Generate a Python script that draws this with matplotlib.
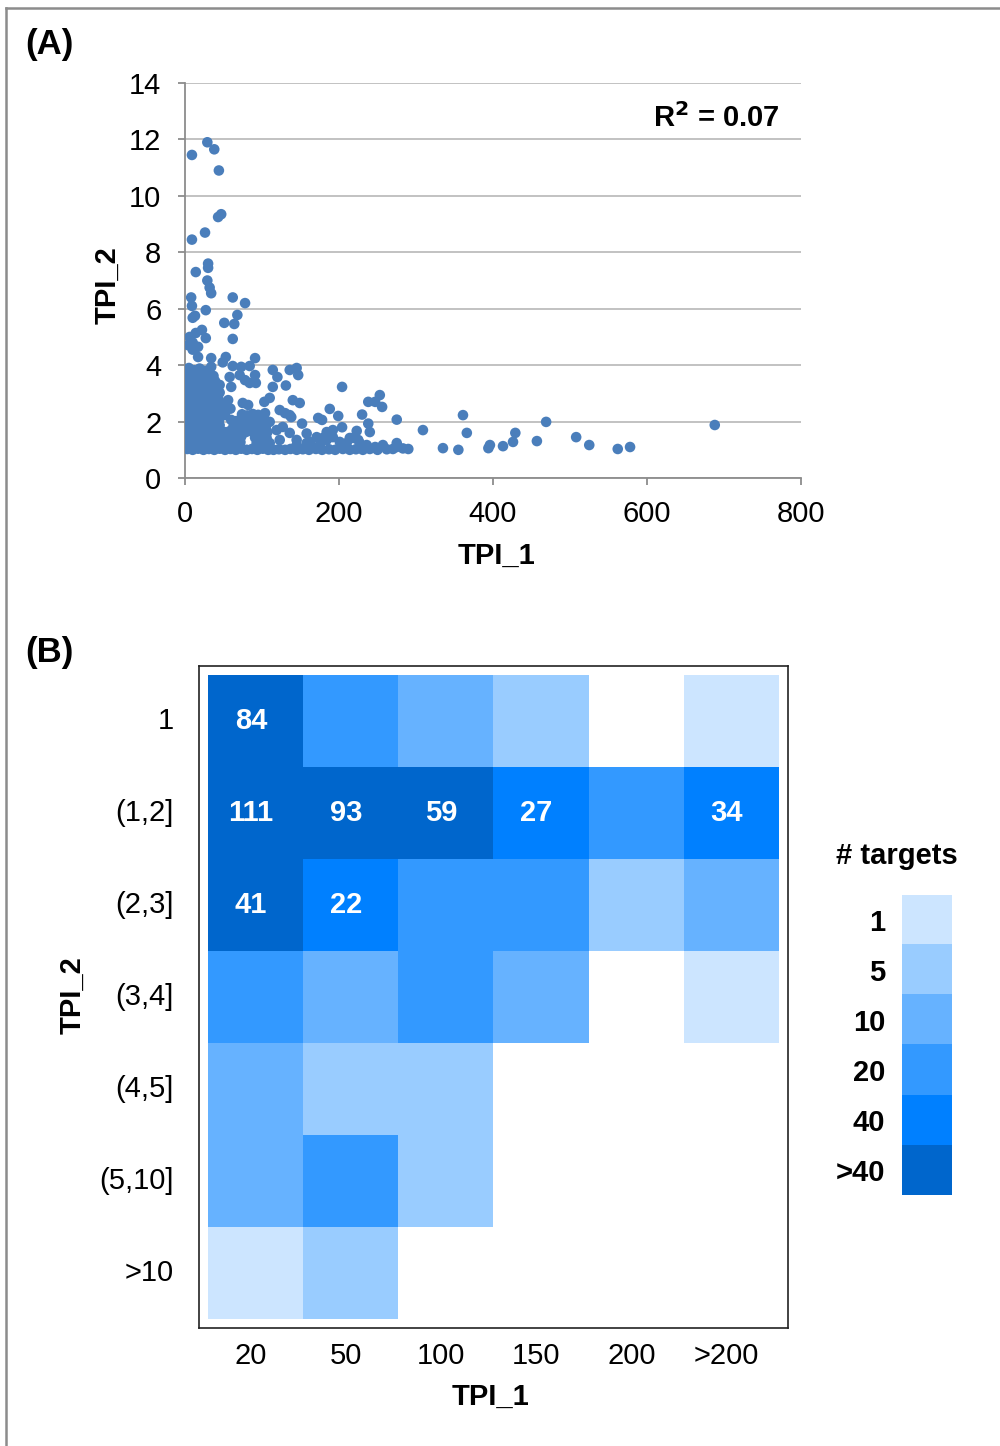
import matplotlib.pyplot as plt
import numpy as np
from matplotlib.colors import ListedColormap, BoundaryNorm
from matplotlib.lines import Line2D

plt.rcParams['font.family'] = ['Liberation Sans', 'DejaVu Sans']

# ---- panel A: TPI_1 vs TPI_2 (dense corner approximated) ----
high_points = [
    (9, 11.45), (29, 11.9), (38, 11.65), (44, 10.9), (47, 9.35), (43, 9.25),
    (26, 8.7), (9, 8.45), (30, 7.6), (30, 7.45), (14, 7.3), (29, 7.0), (32, 6.75),
    (34, 6.55), (8, 6.4), (9, 6.1), (62, 6.4), (78, 6.2), (68, 5.78), (27, 5.95),
    (13, 5.75), (10, 5.68), (51, 5.5), (64, 5.46), (22, 5.25), (14, 5.14),
    (6, 5.0), (10, 4.8), (17, 4.65), (4, 4.71), (10, 4.55), (27, 4.96), (62, 4.93),
    (17, 4.29), (34, 4.25), (53, 4.29), (91, 4.25), (49, 4.1), (34, 3.94),
    (62, 3.97), (73, 3.94), (84, 3.97), (114, 3.83), (120, 3.58), (136, 3.83),
    (145, 3.9), (147, 3.65),
]

mid_points = [
    (45, 3.3), (58, 3.58), (60, 3.23), (71, 3.65), (78, 3.47), (84, 3.37),
    (91, 3.65), (92, 3.37), (36, 3.54), (114, 3.23), (131, 3.28), (56, 2.76),
    (75, 2.66), (82, 2.59), (103, 2.7), (110, 2.84), (123, 2.41), (130, 2.3),
    (138, 2.16), (204, 3.23), (140, 2.76), (149, 2.66), (238, 2.7), (247, 2.7),
    (253, 2.94), (256, 2.52), (188, 2.45), (199, 2.2), (173, 2.13), (178, 2.06),
    (230, 2.25), (152, 1.93), (238, 1.93), (275, 2.07), (158, 1.58), (309, 1.7),
    (361, 2.23), (366, 1.6), (184, 1.63), (192, 1.7), (204, 1.8), (223, 1.67),
    (240, 1.63), (136, 2.23), (171, 1.45), (162, 1.28), (145, 1.17), (179, 1.42),
    (214, 1.42), (225, 1.35), (275, 1.24), (104, 2.3), (110, 1.99), (119, 1.7),
    (127, 1.81), (136, 1.6), (123, 1.35), (110, 1.24), (101, 1.45), (145, 1.35),
    (158, 1.24), (166, 1.1), (175, 1.17), (184, 1.35), (192, 1.45), (201, 1.28),
    (210, 1.24), (218, 1.42), (227, 1.24), (236, 1.17), (247, 1.1), (257, 1.17),
]

cluster_points = [
    (5, 3.9), (12, 3.82), (19, 3.88), (26, 3.8),
    (2, 3.62), (8, 3.68), (15, 3.6), (22, 3.66), (29, 3.58), (37, 3.62),
    (3, 3.42), (10, 3.46), (16, 3.4), (23, 3.47), (30, 3.41), (39, 3.44),
    (2, 3.22), (8, 3.27), (14, 3.2), (21, 3.26), (27, 3.21), (34, 3.27), (41, 3.2),
    (3, 3.03), (10, 3.07), (17, 3.01), (24, 3.06), (31, 3.02), (38, 3.07), (45, 3.03),
    (2, 2.84), (8, 2.88), (15, 2.82), (22, 2.87), (29, 2.83), (36, 2.88), (43, 2.84),
    (3, 2.64), (9, 2.68), (16, 2.62), (23, 2.67), (30, 2.63), (37, 2.68), (46, 2.62), (53, 2.66),
    (2, 2.45), (8, 2.42), (15, 2.47), (22, 2.43), (29, 2.46), (36, 2.42), (43, 2.47),
    (50, 2.43), (59, 2.46),
    (3, 2.25), (10, 2.22), (17, 2.27), (24, 2.23), (31, 2.26), (38, 2.22), (45, 2.27),
    (52, 2.23), (74, 2.26), (81, 2.22), (88, 2.27), (95, 2.24),
    (2, 2.05), (9, 2.08), (16, 2.03), (23, 2.07), (30, 2.04), (37, 2.08), (44, 2.03),
    (60, 2.06), (67, 2.02), (74, 2.07), (81, 2.03), (88, 2.06), (96, 2.02), (103, 2.07),
    (3, 1.85), (10, 1.82), (17, 1.87), (24, 1.83), (31, 1.86), (38, 1.82), (45, 1.87),
    (63, 1.83), (70, 1.87), (77, 1.82), (84, 1.86), (91, 1.83), (98, 1.87), (105, 1.83),
    (2, 1.65), (9, 1.62), (16, 1.67), (23, 1.63), (30, 1.66), (37, 1.62), (44, 1.67),
    (51, 1.63), (58, 1.66), (65, 1.62), (72, 1.67), (79, 1.63), (86, 1.66), (93, 1.62),
    (100, 1.67), (107, 1.63),
    (3, 1.45), (10, 1.42), (17, 1.47), (24, 1.43), (31, 1.46), (38, 1.42), (45, 1.47),
    (52, 1.43), (59, 1.46), (66, 1.42), (73, 1.47), (91, 1.43), (98, 1.46), (106, 1.42),
    (2, 1.25), (9, 1.22), (16, 1.27), (23, 1.23), (30, 1.26), (37, 1.22), (44, 1.27),
    (51, 1.23), (58, 1.26), (65, 1.22), (72, 1.27), (93, 1.23), (100, 1.26), (108, 1.22),
    (3, 1.03), (10, 1.0), (17, 1.04), (24, 1.0), (31, 1.03), (38, 1.0), (45, 1.04),
    (52, 1.0), (59, 1.03), (66, 1.0), (73, 1.04), (80, 1.0), (87, 1.03), (94, 1.0),
    (101, 1.04), (108, 1.0),
]

tail_points = [
    (115, 1.0), (122, 1.02), (130, 1.0), (137, 1.03), (145, 1.0), (153, 1.02),
    (161, 1.0), (170, 1.03), (178, 1.0), (187, 1.02), (195, 1.0), (205, 1.03),
    (214, 1.0), (222, 1.02), (231, 1.0), (240, 1.03), (250, 1.0), (262, 1.02),
    (270, 1.03), (275, 1.1), (283, 1.05), (290, 1.03), (335, 1.06), (355, 1.0),
    (394, 1.06), (396, 1.17), (413, 1.13), (426, 1.28), (429, 1.6), (457, 1.31),
    (469, 1.99), (508, 1.45), (525, 1.17), (562, 1.03), (578, 1.1), (688, 1.88),
]

r2_text = 'R$^2$ = 0.07'

# ---- panel B: binned counts ----
tpi1_bins = ['20', '50', '100', '150', '200', '>200']
tpi2_bins = ['1', '(1,2]', '(2,3]', '(3,4]', '(4,5]', '(5,10]', '>10']
nan = np.nan
counts = [
    [84, 15, 8, 4, nan, 1],
    [111, 93, 59, 27, 14, 34],
    [41, 22, 16, 12, 3, 7],
    [13, 9, 11, 6, nan, 1],
    [8, 3, 2, nan, nan, nan],
    [7, 17, 4, nan, nan, nan],
    [1, 3, nan, nan, nan, nan],
]
level_labels = ['1', '5', '10', '20', '40', '>40']
level_edges = [0.5, 1.5, 5.5, 10.5, 20.5, 40.5, 1000]
level_colors = ['#cce5ff', '#99ccff', '#66b2ff', '#3399ff', '#0080ff', '#0066cc']


def main():
    plt.rcParams['mathtext.default'] = 'bf'
    fig = plt.figure(figsize=(10, 14.46), dpi=100)

    # frame around the figure (left and top edges visible)
    fig.add_artist(Line2D([0.006, 0.006], [0, 0.9945], color='#8c8c8c', lw=1.8))
    fig.add_artist(Line2D([0.006, 1.0], [0.9945, 0.9945], color='#8c8c8c', lw=1.8))

    # ---------------- (A) ----------------
    pts = high_points + mid_points + cluster_points + tail_points
    x = np.array([p[0] for p in pts])
    y = np.array([p[1] for p in pts])

    ax = fig.add_axes([0.185, 0.6694, 0.616, 0.2732])
    ax.scatter(x, y, s=58, color='#4a7ebb', edgecolors='none', zorder=3)
    ax.set_xlim(0, 800)
    ax.set_ylim(0, 14)
    ax.set_xticks(np.arange(0, 801, 200))
    ax.set_yticks(np.arange(0, 15, 2))
    ax.yaxis.grid(True, color='#bdbdbd', lw=1.3)
    ax.set_axisbelow(True)
    for s in ['top', 'right']:
        ax.spines[s].set_visible(False)
    for s in ['left', 'bottom']:
        ax.spines[s].set_color('#8c8c8c')
        ax.spines[s].set_linewidth(1.3)
    ax.tick_params(axis='both', labelsize=21, color='#8c8c8c', length=5, width=1.3)
    ax.tick_params(axis='x', pad=11)
    ax.tick_params(axis='y', pad=12)
    ax.text(0.966, 0.911, r2_text, transform=ax.transAxes, ha='right', va='center',
            fontsize=21, fontweight='bold')

    fig.text(0.496, 0.6155, 'TPI_1', ha='center', va='center', fontsize=21, fontweight='bold')
    fig.text(0.107, 0.803, 'TPI_2', ha='center', va='center', fontsize=21,
             fontweight='bold', rotation=90)
    fig.text(0.025, 0.969, '(A)', ha='left', va='center', fontsize=25, fontweight='bold')

    # ---------------- (B) ----------------
    cmap = ListedColormap(level_colors)
    cmap.set_bad('white')
    norm = BoundaryNorm(level_edges, cmap.N)
    data = np.ma.masked_invalid(np.array(counts, dtype=float))

    hx = fig.add_axes([0.199, 0.0816, 0.589, 0.4578])
    hx.imshow(data, cmap=cmap, norm=norm, aspect='auto', interpolation='nearest',
              extent=[0, len(tpi1_bins), len(tpi2_bins), 0])
    hx.set_xlim(-0.095, len(tpi1_bins) + 0.095)
    hx.set_ylim(len(tpi2_bins) + 0.1, -0.1)
    hx.set_xticks(np.arange(len(tpi1_bins)) + 0.45)
    hx.set_xticklabels(tpi1_bins)
    hx.set_yticks(np.arange(len(tpi2_bins)) + 0.47)
    hx.set_yticklabels(tpi2_bins)
    hx.tick_params(axis='both', length=0, labelsize=21)
    hx.tick_params(axis='x', pad=10)
    hx.tick_params(axis='y', pad=18)
    for s in hx.spines.values():
        s.set_color('#222222')
        s.set_linewidth(1.2)

    for i, row in enumerate(counts):
        for j, v in enumerate(row):
            if not np.isnan(v) and v > 20:
                hx.text(j + 0.45, i + 0.5, str(int(v)), ha='center', va='center',
                        color='white', fontsize=21, fontweight='bold')

    fig.text(0.490, 0.0339, 'TPI_1', ha='center', va='center', fontsize=21, fontweight='bold')
    fig.text(0.072, 0.312, 'TPI_2', ha='center', va='center', fontsize=21,
             fontweight='bold', rotation=90)
    fig.text(0.025, 0.549, '(B)', ha='left', va='center', fontsize=25, fontweight='bold')

    # legend of count levels
    lx = fig.add_axes([0.902, 0.1736, 0.05, 0.2075])
    lx.imshow(np.arange(len(level_labels)).reshape(-1, 1), cmap=cmap, aspect='auto',
              interpolation='nearest', vmin=-0.5, vmax=len(level_labels) - 0.5)
    lx.set_xticks([])
    lx.set_yticks(np.arange(len(level_labels)))
    lx.set_yticklabels(level_labels, fontsize=21, fontweight='bold')
    lx.tick_params(axis='y', length=0, pad=12)
    for s in lx.spines.values():
        s.set_visible(False)
    fig.text(0.897, 0.408, '# targets', ha='center', va='center', fontsize=21,
             fontweight='bold')

    fig.savefig('out.png', dpi=100)


if __name__ == '__main__':
    main()
